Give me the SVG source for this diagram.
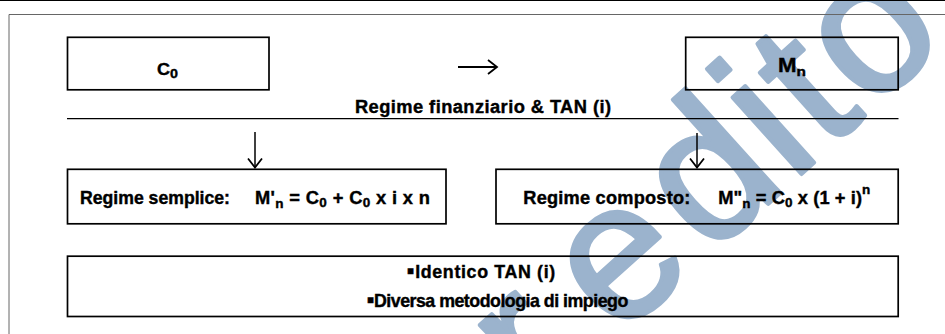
<svg xmlns="http://www.w3.org/2000/svg" width="945" height="334" viewBox="0 0 945 334">
<style>
.box{fill:none;stroke:#000;stroke-width:1.7}
.t{font-family:"Liberation Sans",Arial,sans-serif;font-weight:bold;fill:#000;stroke:#000;stroke-width:0.4;font-size:17.8px}
.sub{font-size:13.5px}
.bul{font-size:22px}
.wm{font-family:"Liberation Sans",Arial,sans-serif;font-size:195px;fill:#9bb3cd;stroke:#9bb3cd;stroke-width:4;stroke-linejoin:round}
.frame{stroke:#666;stroke-width:1;fill:none}
.conn{stroke:#000;fill:none}
</style>
<defs>
<marker id="chev" markerUnits="userSpaceOnUse" markerWidth="20" markerHeight="20" viewBox="-12 -10 14 20" refX="0" refY="0" orient="auto">
<path d="M-9,-7 L0,0 L-9,7" fill="none" stroke="#000" stroke-width="1.8" stroke-linejoin="miter"/>
</marker>
</defs>
<rect width="945" height="334" fill="#fff"/>
<g id="watermark">
<text class="wm" transform="translate(808,168) rotate(-42)" x="-462 -362 -256 -133 -22 25 83" y="0">credito</text>
</g>
<g id="page-frame">
<line x1="0" y1="0.5" x2="945" y2="0.5" stroke="#000" stroke-width="1.2"/>
<path class="frame" d="M945,14.5 H9 V334"/>
</g>
<g id="node-c0">
<rect class="box" x="67.5" y="37.3" width="201.5" height="52.5"/>
<text class="t" x="157" y="75" style="font-size:17px" textLength="21" lengthAdjust="spacingAndGlyphs">C<tspan class="sub" dy="3">0</tspan></text>
</g>
<g id="node-mn">
<rect class="box" x="685.7" y="37.3" width="212.5" height="52.5"/>
<text class="t" x="778" y="72.3" style="font-size:19.5px" textLength="28" lengthAdjust="spacingAndGlyphs">M<tspan class="sub" dy="4">n</tspan></text>
</g>
<g id="node-regime">
<text class="t" x="355" y="112.5" style="font-size:18.3px" textLength="256" lengthAdjust="spacing">Regime finanziario &amp; TAN (i)</text>
<line x1="67" y1="118.7" x2="898.5" y2="118.7" stroke="#000" stroke-width="1.3"/>
</g>
<g id="node-semplice">
<rect class="box" x="67.5" y="169.3" width="378.5" height="54.5"/>
<text class="t" x="80" y="204" textLength="150" lengthAdjust="spacingAndGlyphs">Regime semplice:</text>
<text class="t" x="255" y="204" style="font-size:18.3px" textLength="175" lengthAdjust="spacing">M'<tspan class="sub" dy="4">n</tspan><tspan dy="-4"> = C</tspan><tspan class="sub" dy="3">0</tspan><tspan dy="-3"> + C</tspan><tspan class="sub" dy="3">0</tspan><tspan dy="-3"> x i x n</tspan></text>
</g>
<g id="node-composto">
<rect class="box" x="496" y="169.3" width="402.2" height="54.5"/>
<text class="t" x="523.3" y="204" style="font-size:18.2px" textLength="167" lengthAdjust="spacing">Regime composto:</text>
<text class="t" x="718.3" y="204" style="font-size:18.3px" textLength="152" lengthAdjust="spacing">M"<tspan class="sub" dy="4">n</tspan><tspan dy="-4"> = C</tspan><tspan class="sub" dy="3">0</tspan><tspan dy="-3"> x (1 + i)</tspan><tspan class="sub" dy="-10">n</tspan></text>
</g>
<g id="node-bottom">
<rect class="box" x="67.5" y="256.2" width="830.7" height="60.3"/>
<text class="t" x="406.7" y="278.3" textLength="148.5" lengthAdjust="spacing"><tspan class="bul">▪</tspan>Identico TAN (i)</text>
<text class="t" x="366.7" y="306.7" textLength="261.6" lengthAdjust="spacing"><tspan class="bul">▪</tspan>Diversa metodologia di impiego</text>
</g>
<g id="connectors">
<line class="conn" x1="458" y1="67" x2="497" y2="67" stroke-width="2" marker-end="url(#chev)"/>
<line class="conn" x1="255" y1="132" x2="255" y2="167.5" stroke-width="1.5" marker-end="url(#chev)"/>
<line class="conn" x1="697" y1="133" x2="697" y2="167.5" stroke-width="1.5" marker-end="url(#chev)"/>
</g>
</svg>
